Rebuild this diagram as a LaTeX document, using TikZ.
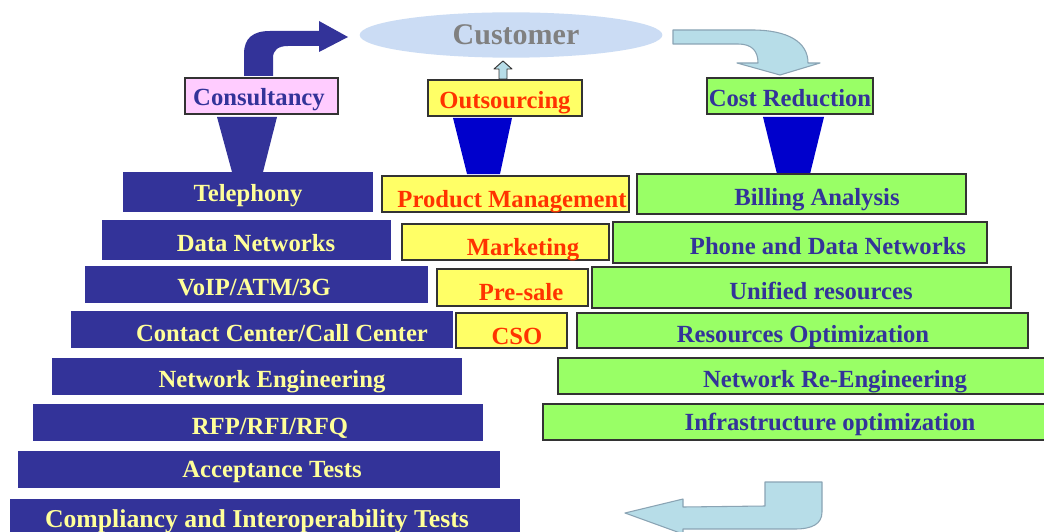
\documentclass[tikz,border=0pt]{standalone}
\usepackage{fontspec}
\setmainfont{Liberation Serif}
\usetikzlibrary{fit,shapes.geometric}
\definecolor{navy}{HTML}{333399}
\definecolor{blueF}{HTML}{0000CC}
\definecolor{paleyel}{HTML}{FFFF99}
\definecolor{yelbox}{HTML}{FFFF66}
\definecolor{redtxt}{HTML}{FF3300}
\definecolor{grnbox}{HTML}{99FF66}
\definecolor{pinkbox}{HTML}{FFCCFF}
\definecolor{custfill}{HTML}{CBDCF4}
\definecolor{custtxt}{HTML}{808080}
\definecolor{arrblue}{HTML}{B7DDE8}
\definecolor{arrbord}{HTML}{8AA4B4}
\definecolor{bord}{HTML}{333333}
\tikzset{
  bar/.style={inner sep=0pt, outer sep=0pt},
  navybar/.style={bar, fill=navy},
  ybox/.style={bar, fill=yelbox, draw=bord, line width=0.9pt},
  gbox/.style={bar, fill=grnbox, draw=bord, line width=0.9pt},
  pbox/.style={bar, fill=pinkbox, draw=bord, line width=0.9pt},
  txt/.style={inner sep=0pt, anchor=base, yshift=-1.5pt, font=\fontsize{18.5}{20}\selectfont\bfseries},
  ntxt/.style={txt, text=paleyel},
  rtxt/.style={txt, text=redtxt},
  btxt/.style={txt, text=navy},
  funnelN/.style={fill=navy},
  funnelB/.style={fill=blueF},
  lbarrow/.style={fill=arrblue, draw=arrbord, line width=0.8pt, line join=round},
}
\begin{document}
\begin{tikzpicture}[x=0.75pt, y=-0.75pt]
\useasboundingbox (0,0) rectangle (1044,531);
\clip (0,0) rectangle (1044,531);
\fill[white] (0,0) rectangle (1044,531);

% Customer
\node[ellipse, fill=custfill, inner sep=0pt, minimum width=227pt, minimum height=34pt] (cust) at (511,35) {};
\node[txt, text=custtxt, font=\fontsize{22.5}{24}\selectfont\bfseries] (cust-t) at (516,43) {Customer};

% Top labels
\node[pbox, fit={(185,78) (338,114)}] (cons) {};
\node[btxt] (cons-t) at (259,104) {Consultancy};
\node[ybox, fit={(428,80) (582,116)}] (outs) {};
\node[rtxt] (outs-t) at (505,107) {Outsourcing};
\node[gbox, fit={(707,78) (873,114)}] (cost) {};
\node[btxt] (cost-t) at (790,105) {Cost Reduction};

% Funnels
\fill[funnelN] (217,117) -- (277,117) -- (263,172) -- (232,172) -- cycle;
\fill[funnelB] (453,118) -- (512,118) -- (500,174) -- (467,174) -- cycle;
\fill[funnelB] (763,117) -- (824,117) -- (810,174) -- (777,174) -- cycle;

% Navy bent arrow (Consultancy -> Customer)
\fill[navy] (244,76) -- (244,54) .. controls (244,38) and (253,31) .. (270,31)
  -- (319,31) -- (319,21) -- (348,37) -- (319,52) -- (319,46) -- (288,46)
  .. controls (278,46) and (273,50) .. (273,58) -- (273,76) -- cycle;

% Small up arrow (Outsourcing -> Customer)
\draw[lbarrow, line width=0.7pt, draw=bord] (499,79) -- (499,69) -- (494,69) -- (503,61) -- (512,69) -- (507,69) -- (507,79) -- cycle;

% Light blue curved arrow (Customer -> Cost Reduction)
\draw[lbarrow] (673,30) -- (752,30) .. controls (788,30) and (808,42) .. (808,63)
  -- (820,63) -- (780,75) -- (737,63) -- (758,63) .. controls (758,51) and (752,44) .. (738,44)
  -- (673,44) -- cycle;

% Bottom U-turn arrow
\draw[lbarrow] (765,482) -- (822,482) -- (822,512) .. controls (822,524) and (812,529) .. (795,529)
  -- (683,529) -- (683,534) -- (625,513) -- (683,499) -- (683,507) -- (765,506) -- cycle;

% Left column
\node[navybar, fit={(123,172) (373,212)}] (tel) {};
\node[ntxt] (tel-t) at (248,199) {Telephony};
\node[navybar, fit={(102,220) (391,260)}] (data) {};
\node[ntxt] (data-t) at (256,249) {Data Networks};
\node[navybar, fit={(85,266) (428,303)}] (voip) {};
\node[ntxt] (voip-t) at (254,293) {VoIP/ATM/3G};
\node[navybar, fit={(71,311) (453,348)}] (cc) {};
\node[ntxt] (cc-t) at (282,339) {Contact Center/Call Center};
\node[navybar, fit={(52,358) (462,395)}] (neteng) {};
\node[ntxt] (neteng-t) at (272,385) {Network Engineering};
\node[navybar, fit={(33,404) (483,441)}] (rfp) {};
\node[ntxt] (rfp-t) at (270,432) {RFP/RFI/RFQ};
\node[navybar, fit={(18,451) (500,488)}] (acc) {};
\node[ntxt] (acc-t) at (272,475) {Acceptance Tests};
\node[navybar, fit={(10,499) (520,540)}] (comp) {};
\node[ntxt, font=\fontsize{19.3}{21}\selectfont\bfseries] (comp-t) at (257,525) {Compliancy and Interoperability Tests};

% Middle column
\node[ybox, fit={(382,176) (629,212)}] (pm) {};
\node[rtxt] (pm-t) at (512,205) {Product Management};
\node[ybox, fit={(402,224) (609,260)}] (mkt) {};
\node[rtxt] (mkt-t) at (523,253) {Marketing};
\node[ybox, fit={(437,269) (588,306)}] (pre) {};
\node[rtxt] (pre-t) at (521,298) {Pre-sale};
\node[ybox, fit={(456,313) (567,348)}] (cso) {};
\node[rtxt] (cso-t) at (517,342) {CSO};

% Right column
\node[gbox, fit={(637,174) (966,214)}] (bill) {};
\node[btxt] (bill-t) at (817,203) {Billing Analysis};
\node[gbox, fit={(613,222) (987,263)}] (phone) {};
\node[btxt] (phone-t) at (828,252) {Phone and Data Networks};
\node[gbox, fit={(592,267) (1011,308)}] (unif) {};
\node[btxt] (unif-t) at (821,297) {Unified resources};
\node[gbox, fit={(577,313) (1028,348)}] (resopt) {};
\node[btxt] (resopt-t) at (803,340) {Resources Optimization};
\node[gbox, fit={(558,358) (1050,394)}] (nre) {};
\node[btxt] (nre-t) at (835,385) {Network Re-Engineering};
\node[gbox, fit={(543,404) (1050,440)}] (infra) {};
\node[btxt] (infra-t) at (830,428) {Infrastructure optimization};
\end{tikzpicture}
\end{document}
